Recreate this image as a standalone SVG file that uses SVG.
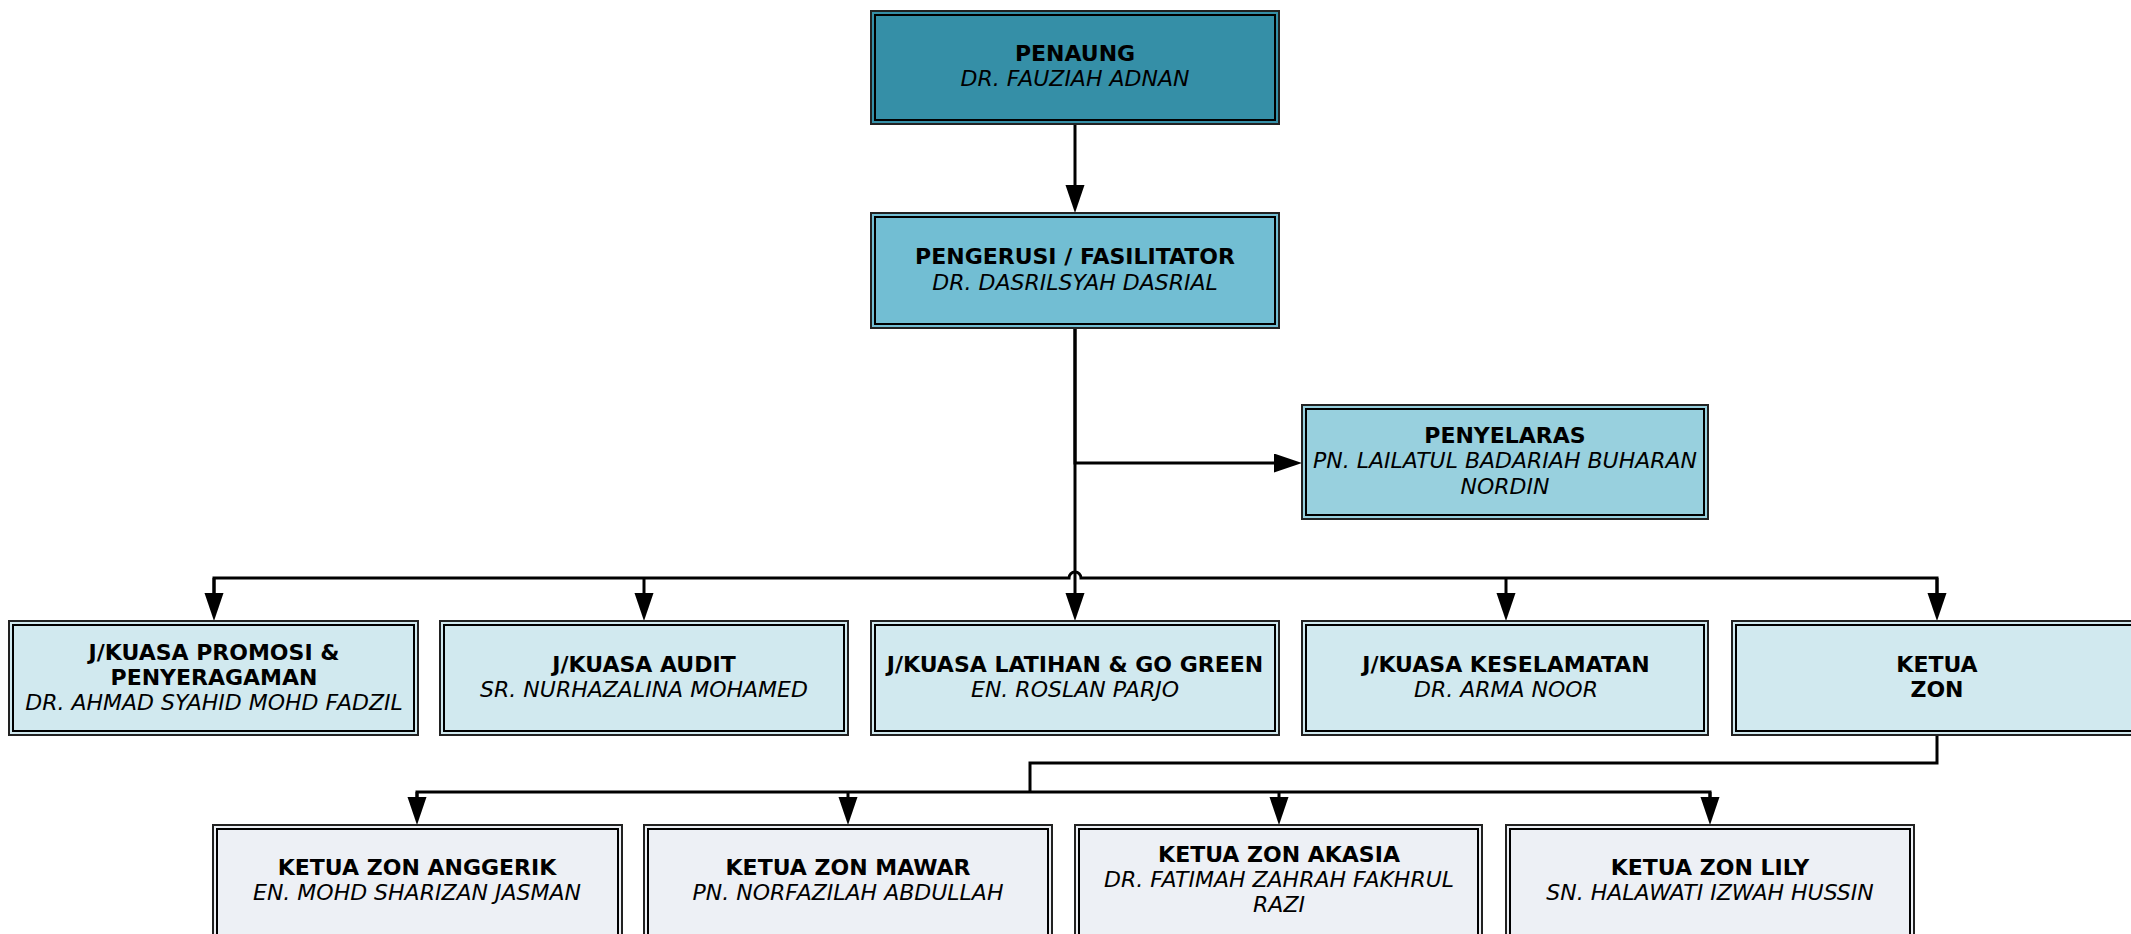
<svg xmlns="http://www.w3.org/2000/svg" width="2131" height="934" viewBox="0 0 2131 934">
<style>
.o{stroke:#222;stroke-width:2}
.i{fill:none;stroke:#000;stroke-width:2}
.t{font-family:"DejaVu Sans","Verdana",sans-serif;font-size:22px;fill:#000;text-anchor:middle}
.b{font-weight:bold}
.it{font-style:italic}
.c{fill:none;stroke:#000;stroke-width:3}
.a{marker-end:url(#ah)}
.l0{fill:#358fa7}.l1{fill:#72bed3}.l2{fill:#98d0de}.l3{fill:#d1e9ef}.l4{fill:#edf0f5}
</style>
<defs>
<marker id="ah" markerUnits="userSpaceOnUse" markerWidth="30" markerHeight="20" refX="2" refY="9.5" orient="auto">
<path d="M0,0 L28,9.5 L0,19 z" fill="#000"/>
</marker>
</defs>
<rect width="2131" height="934" fill="#fff"/>
<g id="connectors">
<path class="c a" d="M1075,124 V187"/>
<path class="c a" d="M1075,328 V463 H1276"/>
<path class="c a" d="M1075,328 V595"/>
<path class="c" d="M214,595 V578 H1069 A6,6 0 0 1 1081,578 H1937 V595"/>
<path class="c a" d="M214,578 V595"/>
<path class="c a" d="M644,578 V595"/>
<path class="c a" d="M1506,578 V595"/>
<path class="c a" d="M1937,578 V595"/>
<path class="c" d="M1937,735 V763 H1030 V792"/>
<path class="c" d="M417,799 V792 H1710 V799"/>
<path class="c a" d="M417,792 V799"/>
<path class="c a" d="M848,792 V799"/>
<path class="c a" d="M1279,792 V799"/>
<path class="c a" d="M1710,792 V799"/>
</g>
<g id="penaung">
<rect class="o l0" x="871" y="11" width="408" height="113"/>
<rect class="i" x="875" y="15" width="400" height="105"/>
<text class="t b" x="1075" y="61">PENAUNG</text>
<text class="t it" x="1075" y="86">DR. FAUZIAH ADNAN</text>
</g>
<g id="pengerusi">
<rect class="o l1" x="871" y="213" width="408" height="115"/>
<rect class="i" x="875" y="217" width="400" height="107"/>
<text class="t b" x="1075" y="264">PENGERUSI / FASILITATOR</text>
<text class="t it" x="1075" y="290">DR. DASRILSYAH DASRIAL</text>
</g>
<g id="penyelaras">
<rect class="o l2" x="1302" y="405" width="406" height="114"/>
<rect class="i" x="1306" y="409" width="398" height="106"/>
<text class="t b" x="1505" y="443">PENYELARAS</text>
<text class="t it" x="1505" y="468">PN. LAILATUL BADARIAH BUHARAN</text>
<text class="t it" x="1505" y="494">NORDIN</text>
</g>
<g id="promosi">
<rect class="o l3" x="9" y="621" width="409" height="114"/>
<rect class="i" x="13" y="625" width="401" height="106"/>
<text class="t b" x="214" y="660">J/KUASA PROMOSI &amp;</text>
<text class="t b" x="214" y="685">PENYERAGAMAN</text>
<text class="t it" x="214" y="710">DR. AHMAD SYAHID MOHD FADZIL</text>
</g>
<g id="audit">
<rect class="o l3" x="440" y="621" width="408" height="114"/>
<rect class="i" x="444" y="625" width="400" height="106"/>
<text class="t b" x="644" y="672">J/KUASA AUDIT</text>
<text class="t it" x="644" y="697">SR. NURHAZALINA MOHAMED</text>
</g>
<g id="latihan">
<rect class="o l3" x="871" y="621" width="408" height="114"/>
<rect class="i" x="875" y="625" width="400" height="106"/>
<text class="t b" x="1075" y="672">J/KUASA LATIHAN &amp; GO GREEN</text>
<text class="t it" x="1075" y="697">EN. ROSLAN PARJO</text>
</g>
<g id="keselamatan">
<rect class="o l3" x="1302" y="621" width="406" height="114"/>
<rect class="i" x="1306" y="625" width="398" height="106"/>
<text class="t b" x="1506" y="672">J/KUASA KESELAMATAN</text>
<text class="t it" x="1506" y="697">DR. ARMA NOOR</text>
</g>
<g id="ketua-zon">
<rect class="o l3" x="1732" y="621" width="409" height="114"/>
<rect class="i" x="1736" y="625" width="401" height="106"/>
<text class="t b" x="1937" y="672">KETUA</text>
<text class="t b" x="1937" y="697">ZON</text>
</g>
<g id="anggerik">
<rect class="o l4" x="213" y="825" width="409" height="114"/>
<rect class="i" x="217" y="829" width="401" height="106"/>
<text class="t b" x="417" y="875">KETUA ZON ANGGERIK</text>
<text class="t it" x="417" y="900">EN. MOHD SHARIZAN JASMAN</text>
</g>
<g id="mawar">
<rect class="o l4" x="644" y="825" width="408" height="114"/>
<rect class="i" x="648" y="829" width="400" height="106"/>
<text class="t b" x="848" y="875">KETUA ZON MAWAR</text>
<text class="t it" x="848" y="900">PN. NORFAZILAH ABDULLAH</text>
</g>
<g id="akasia">
<rect class="o l4" x="1075" y="825" width="407" height="114"/>
<rect class="i" x="1079" y="829" width="399" height="106"/>
<text class="t b" x="1279" y="862">KETUA ZON AKASIA</text>
<text class="t it" x="1279" y="887">DR. FATIMAH ZAHRAH FAKHRUL</text>
<text class="t it" x="1279" y="912">RAZI</text>
</g>
<g id="lily">
<rect class="o l4" x="1506" y="825" width="408" height="114"/>
<rect class="i" x="1510" y="829" width="400" height="106"/>
<text class="t b" x="1710" y="875">KETUA ZON LILY</text>
<text class="t it" x="1710" y="900">SN. HALAWATI IZWAH HUSSIN</text>
</g>
</svg>
